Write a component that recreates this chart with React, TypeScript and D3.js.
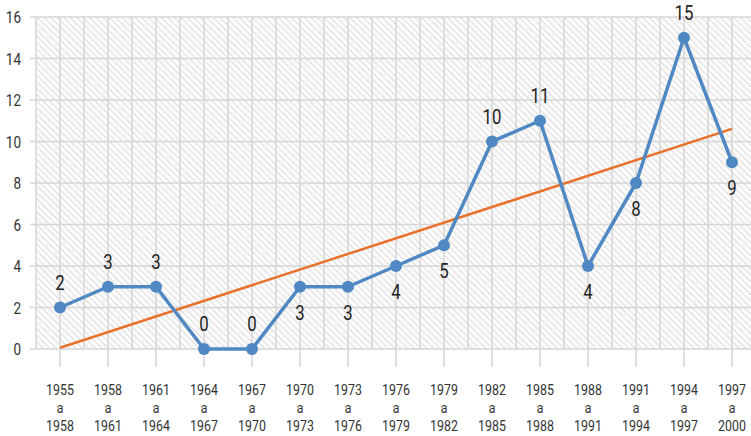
import React from "react";
import * as d3 from "d3";

const startYears = ["1955","1958","1961","1964","1967","1970","1973","1976","1979","1982","1985","1988","1991","1994","1997"];
const endYears = ["1958","1961","1964","1967","1970","1973","1976","1979","1982","1985","1988","1991","1994","1997","2000"];
const values = [2,3,3,0,0,3,3,4,5,10,11,4,8,15,9];
const labelAbove = [true,true,true,true,true,false,false,false,false,true,true,false,false,true,false];
const trendValues = [0.06, 10.61];
const yTicks = [0,2,4,6,8,10,12,14,16];

const W = 751, H = 436;
const FONT = "Roboto, 'DejaVu Sans', sans-serif";

function CText({ x, y, size, sx, children, anchor = "middle", fill = "#333" }: any) {
  return (
    <text transform={`translate(${x},${y}) scale(${sx},1)`} textAnchor={anchor} fontFamily={FONT} fontSize={size} fill={fill}>
      {children}
    </text>
  );
}

export default function App() {
  const x = d3.scaleBand<string>().domain(startYears).range([36, 756]);
  const y = d3.scaleLinear().domain([0, 16]).range([349, 17]);
  const cx = (i: number) => (x(startYears[i]) as number) + x.bandwidth() / 2;
  const line = d3.line<number>().x((_, i) => cx(i)).y((d) => y(d));
  const trendX = d3.scaleLinear().domain([0, 1]).range([cx(0), cx(startYears.length - 1)]);
  const trend = d3.line<number>().x((_, i) => trendX(i)).y((d) => y(d));
  const left = 36, right = 756, top = y(16), bottom = y(0);
  const vLines: number[] = [];
  startYears.forEach((s, i) => { vLines.push(x(s) as number); vLines.push(cx(i)); });

  return (
    <svg width={W} height={H} style={{ position: "absolute", left: 0, top: 0 }}>
      <defs>
        <pattern id="hatch" patternUnits="userSpaceOnUse" width="4.6" height="4.6" patternTransform="rotate(-45)">
          <line x1="0" y1="0" x2="0" y2="4.6" stroke="#cdcdcd" strokeWidth="1.3" />
        </pattern>
      </defs>
      <rect x={0} y={0} width={W} height={H} fill="#ffffff" />
      <rect x={left} y={top} width={right - left} height={bottom - top} fill="#fbfbfb" />
      <rect x={left} y={top} width={right - left} height={bottom - top} fill="url(#hatch)" />
      {yTicks.map((t) => (
        <line key={"h" + t} x1={left - 6} x2={right} y1={y(t)} y2={y(t)} stroke="#d6d6d6" strokeWidth={1.5} />
      ))}
      {vLines.map((v, i) => (
        <line key={"v" + i} x1={v} x2={v} y1={top} y2={bottom} stroke="#d6d6d6" strokeWidth={1.5} />
      ))}
      {startYears.map((s, i) => (
        <line key={"t" + i} x1={cx(i)} x2={cx(i)} y1={bottom} y2={bottom + 18} stroke="#d6d6d6" strokeWidth={1.5} />
      ))}
      {yTicks.map((t) => (
        <CText key={"yl" + t} x={21} y={y(t) + 6} size={16.5} sx={0.82} anchor="end">{t}</CText>
      ))}
      {startYears.map((s, i) => (
        <g key={"xl" + i}>
          <CText x={cx(i)} y={395} size={15.5} sx={0.8}>{s}</CText>
          <CText x={cx(i)} y={413} size={15.5} sx={0.8}>a</CText>
          <CText x={cx(i)} y={431} size={15.5} sx={0.8}>{endYears[i]}</CText>
        </g>
      ))}
      <path d={trend(trendValues) || ""} fill="none" stroke="#e8722c" strokeWidth={2.5} />
      <path d={line(values) || ""} fill="none" stroke="#4f88c2" strokeWidth={3.5} strokeLinejoin="round" />
      {values.map((v, i) => (
        <circle key={"c" + i} cx={cx(i)} cy={y(v)} r={6} fill="#4f88c2" />
      ))}
      {values.map((v, i) => (
        <CText key={"dl" + i} x={cx(i)} y={y(v) + (labelAbove[i] ? -25 : 26) + 7} size={20} sx={0.84} fill="#222">{v}</CText>
      ))}
    </svg>
  );
}
